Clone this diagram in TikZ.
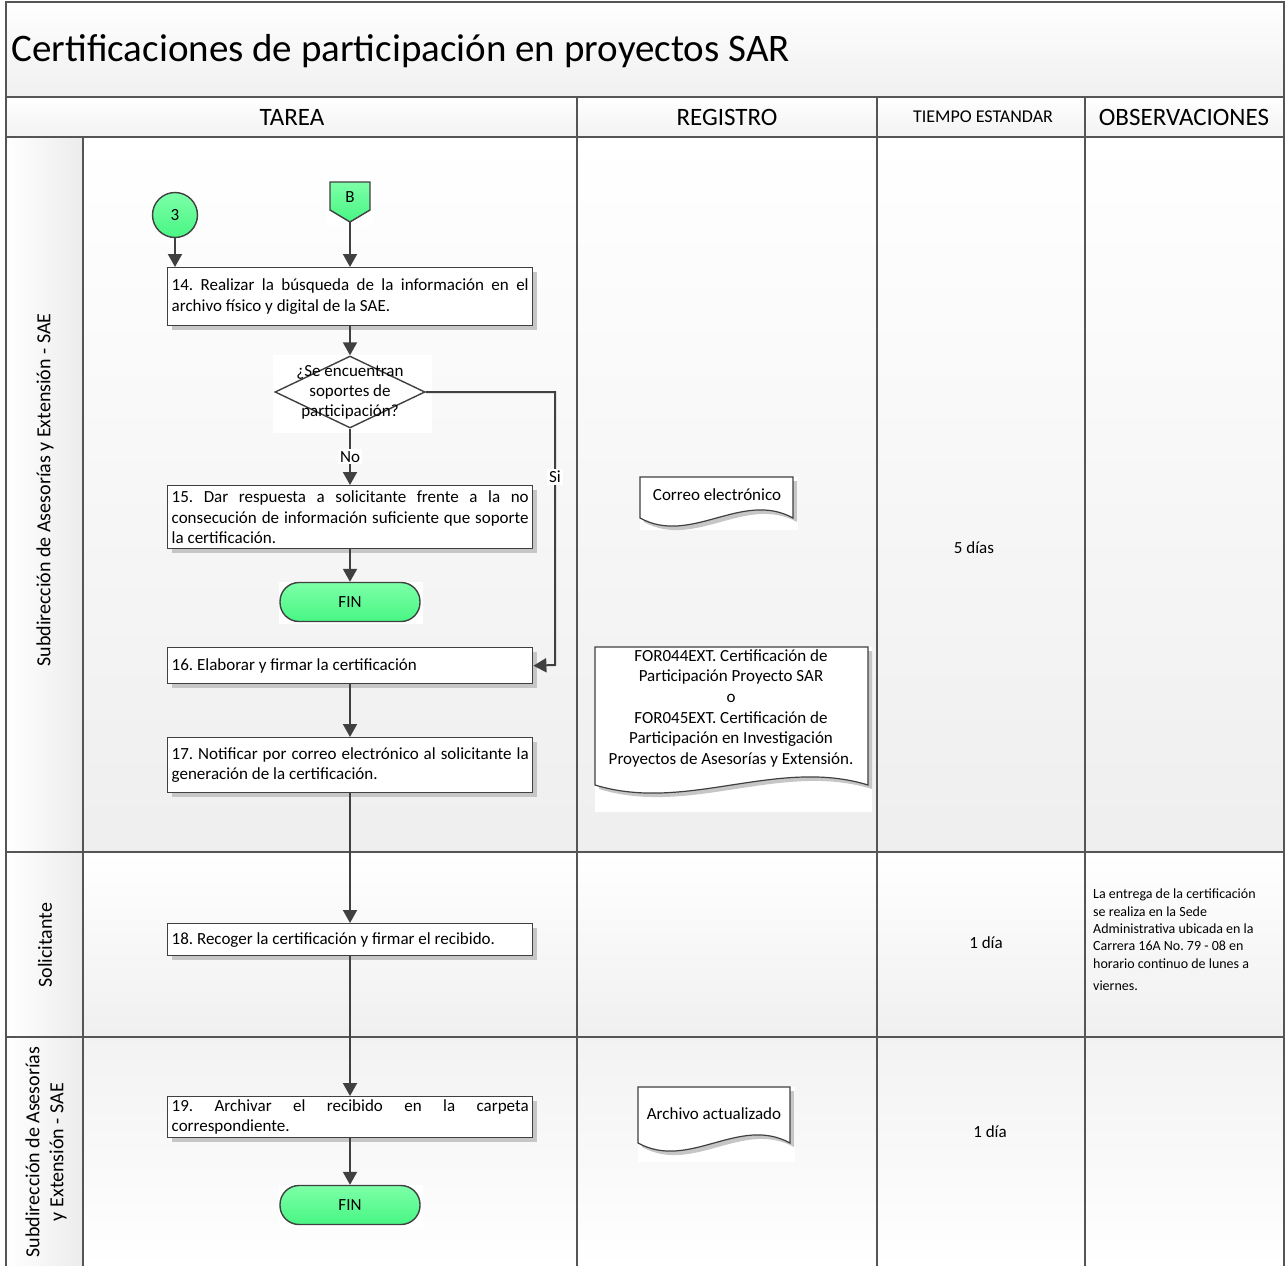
\documentclass[tikz,border=0pt]{standalone}
\usepackage{fontspec}
\setmainfont{Carlito}
\usetikzlibrary{arrows.meta,shadows,shapes.geometric,positioning}
\frenchspacing

\definecolor{linegray}{HTML}{404040}
\definecolor{marcogray}{HTML}{555555}
\definecolor{greenhi}{RGB}{125,255,168}
\definecolor{greenlo}{RGB}{72,246,132}

\tikzset{
  marco/.style={draw=marcogray, line width=1.6pt},
  tarea/.style={draw=linegray, line width=1.4pt, fill=white, anchor=north west,
    text width=357pt, inner xsep=4pt, inner ysep=2pt, align=justify,
    font=\fontsize{17}{20.5}\selectfont,
    drop shadow={shadow xshift=4pt, shadow yshift=-4pt, fill=gray!45, opacity=1}},
  flecha/.style={draw=linegray, line width=2pt, -{Triangle[width=14pt,length=13pt]}},
  conector/.style={circle, draw=linegray, line width=1.4pt, minimum size=45pt,
    top color=greenhi, bottom color=greenlo, font=\fontsize{17}{20}\selectfont},
  fin/.style={rectangle, rounded corners=19pt, draw=linegray, line width=1.4pt,
    minimum width=140pt, minimum height=39pt, top color=greenhi, bottom color=greenlo,
    font=\fontsize{17}{20}\selectfont},
  decision/.style={diamond, draw=linegray, line width=1.4pt, fill=white,
    minimum width=150pt, minimum height=72pt, inner sep=0pt},
  etiqueta/.style={fill=white, inner sep=2pt, font=\fontsize{17}{20}\selectfont},
  registro/.style={align=center, font=\fontsize{17}{20.6}\selectfont},
  carril/.style={rotate=90, align=center, font=\fontsize{20}{24}\selectfont},
  encabezado/.style={font=\fontsize{25}{30}\selectfont},
  tiempo/.style={font=\fontsize{17}{20}\selectfont},
  nota/.style={anchor=north west, align=left, inner sep=0pt, font=\fontsize{14}{17.3}\selectfont}
}

\begin{document}
\begin{tikzpicture}[x=1pt,y=-1pt]
\useasboundingbox (0,0) rectangle (1286,1266);

% fondos
\shade[top color=white, bottom color=gray!12] (6,2) rectangle (1284,97);
\shade[top color=white, bottom color=gray!10] (6,97) rectangle (1284,137);
\shade[left color=white, right color=gray!15] (6,137) rectangle (83,852);
\shade[left color=white, right color=gray!15] (6,852) rectangle (83,1037);
\shade[left color=white, right color=gray!15] (6,1037) rectangle (83,1266);
\shade[top color=white, bottom color=gray!13] (83,137) rectangle (1284,852);
\shade[top color=white, bottom color=gray!12] (83,852) rectangle (1284,1037);
\shade[top color=gray!10, bottom color=white] (83,1037) rectangle (1284,1266);

% marco
\draw[marco] (6,1266) -- (6,2) -- (1284,2) -- (1284,1266);
\draw[marco] (6,97) -- (1284,97);
\draw[marco] (6,137) -- (1284,137);
\draw[marco] (6,852) -- (1284,852);
\draw[marco] (6,1037) -- (1284,1037);
\foreach \x in {577,877,1085} \draw[marco] (\x,97) -- (\x,1266);
\draw[marco] (83,137) -- (83,1266);

% titulo y encabezados
\node[anchor=west, font=\fontsize{39}{45}\selectfont] (titulo) at (8,51) {Certificaciones de participación en proyectos SAR};
\node[encabezado] (hTarea) at (292,117) {TAREA};
\node[encabezado] (hRegistro) at (727,117) {REGISTRO};
\node[font=\fontsize{18}{22}\selectfont] (hTiempo) at (983,117) {TIEMPO ESTANDAR};
\node[encabezado] (hObs) at (1184,117) {OBSERVACIONES};

% carriles
\node[carril] (lSae) at (45,490) {Subdirección de Asesorías y Extensión - SAE};
\node[carril] (lSol) at (45,945) {Solicitante};
\node[carril] (lSae2) at (46,1152) {Subdirección de Asesorías\\y Extensión - SAE};

% inicio
\node[conector] (c3) at (175,215) {3};
\fill[white] (327,180) rectangle (373,225);
\draw[draw=linegray, line width=1.4pt, top color=greenhi, bottom color=greenlo]
  (330,182) -- (370,182) -- (370,210) -- (350,222) -- (330,210) -- cycle;
\node[font=\fontsize{17}{20}\selectfont] (pB) at (350,197) {B};
\coordinate (pBtip) at (350,222);

% tareas
\node[tarea, minimum height=58pt] (t14) at (167,267)
  {14. Realizar la búsqueda de la información en el\linebreak archivo físico y digital de la SAE.};
\fill[white] (273,355) rectangle (432,433);
\node[decision] (d1) at (350,392) {};
\node[align=center, inner sep=0pt, font=\fontsize{17}{20}\selectfont] (q1) at (350,392)
  {¿Se encuentran\\soportes de\\participación?};
\node[tarea, minimum height=63pt] (t15) at (167,485)
  {15. Dar respuesta a solicitante frente a la no\linebreak consecución de información suficiente que soporte\linebreak la certificación.};
\fill[white] (279,582) rectangle (423,624);
\node[fin] (fin1) at (350,602) {FIN};
\node[tarea, minimum height=36pt] (t16) at (167,647)
  {16. Elaborar y firmar la certificación};
\node[tarea, minimum height=55pt] (t17) at (167,737)
  {17. Notificar por correo electrónico al solicitante la\linebreak generación de la certificación.};
\node[tarea, minimum height=32pt] (t18) at (167,923)
  {18. Recoger la certificación y firmar el recibido.};
\node[tarea, minimum height=41pt] (t19) at (167,1096)
  {19. Archivar el recibido en la carpeta\linebreak correspondiente.};
\fill[white] (279,1185) rectangle (423,1227);
\node[fin] (fin2) at (350,1205) {FIN};

% flechas
\draw[flecha] (c3.south) -- (c3.south |- t14.north);
\draw[flecha] (pBtip) -- (pBtip |- t14.north);
\draw[flecha] (pBtip |- t14.south) -- (d1.north);
\draw[flecha] (d1.south) -- node[etiqueta] {No} (d1.south |- t15.north);
\coordinate (si1) at (555,392);
\coordinate (si2) at (555,665);
\draw[flecha] (d1.east) -- (si1) -- node[etiqueta, pos=0.31] {Si} (si2) -- (t16.east);
\draw[flecha] (d1.south |- t15.south) -- (fin1.north);
\draw[flecha] (fin1.north |- t16.south) -- (fin1.north |- t17.north);
\draw[flecha] (fin1.north |- t17.south) -- (fin1.north |- t18.north);
\draw[flecha] (fin1.north |- t18.south) -- (fin1.north |- t19.north);
\draw[flecha] (fin1.north |- t19.south) -- (fin2.north);

% registros
\fill[white] (640,477) rectangle (798,530);
\fill[gray!45, shift={(4,4)}] (640,477) -- (793,477) -- (793,518) .. controls (742,490) and (691,546) .. (640,518) -- cycle;
\draw[draw=linegray, line width=1.2pt, fill=white] (640,477) -- (793,477) -- (793,518) .. controls (742,490) and (691,546) .. (640,518) -- cycle;
\node[registro] (r1) at (717,495) {Correo electrónico};

\fill[white] (595,647) rectangle (872,812);
\fill[gray!45, shift={(4,4)}] (595,647) -- (868,647) -- (868,785) .. controls (777,757) and (686,813) .. (595,785) -- cycle;
\draw[draw=linegray, line width=1.2pt, fill=white] (595,647) -- (868,647) -- (868,785) .. controls (777,757) and (686,813) .. (595,785) -- cycle;
\node[registro, anchor=north] (r2) at (731,646)
  {FOR044EXT. Certificación de\\Participación Proyecto SAR\\o\\FOR045EXT. Certificación de\\Participación en Investigación\\Proyectos de Asesorías y Extensión.};

\fill[white] (638,1087) rectangle (795,1162);
\fill[gray!45, shift={(4,4)}] (638,1087) -- (790,1087) -- (790,1143) .. controls (739,1115) and (689,1171) .. (638,1143) -- cycle;
\draw[draw=linegray, line width=1.2pt, fill=white] (638,1087) -- (790,1087) -- (790,1143) .. controls (739,1115) and (689,1171) .. (638,1143) -- cycle;
\node[registro] (r3) at (714,1114) {Archivo actualizado};

% tiempos
\node[tiempo] (tp1) at (974,548) {5 días};
\node[tiempo] (tp2) at (986,943) {1 día};
\node[tiempo] (tp3) at (990,1132) {1 día};

% observaciones
\node[nota] (obs1) at (1093,889)
  {La entrega de la certificación\\se realiza en la Sede\\Administrativa ubicada en la\\Carrera 16A No. 79 - 08 en\\horario continuo de lunes a\\[5pt]viernes.};
\end{tikzpicture}
\end{document}
